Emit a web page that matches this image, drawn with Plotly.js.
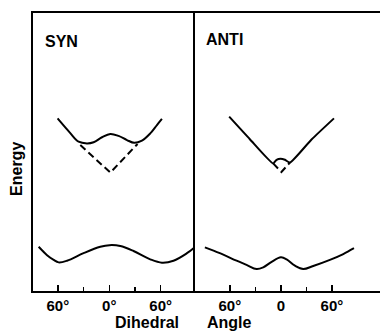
<!DOCTYPE html>
<html><head><meta charset="utf-8">
<script src="https://cdn.plot.ly/plotly-3.0.1.min.js"></script>
<style>html,body{margin:0;padding:0;background:#fff;}#chart{width:380px;height:333px;}</style>
</head><body><div id="chart"></div>
<script>
// Dihedral angle (degrees) vs energy (arbitrary units, 0-100)
const synUpperAngle = [-60.3, -57.1, -45.5, -35.8, -26.0, -18.3, -8.5, 1.2, 10.8, 20.6, 29.1, 38.1, 47.8, 55.6, 61.4];
const synUpperEnergy = [62.1, 60.9, 56.8, 53.7, 53.1, 53.5, 55.3, 56.5, 55.8, 54.3, 53.3, 54.1, 56.7, 59.7, 61.9];
const synDashAngle = [-33.8, 1.2, 33.0];
const synDashEnergy = [52.5, 42.6, 52.9];
const synLowerAngle = [-82.4, -72.6, -64.9, -59.1, -49.3, -30.0, -10.5, 0.3, 12.8, 28.3, 47.8, 61.4, 74.9, 90.6, 98.3];
const synLowerEnergy = [15.9, 12.9, 11.2, 10.3, 10.9, 13.6, 15.9, 16.5, 16.2, 14.4, 11.4, 10.2, 10.9, 13.6, 15.4];

const antiUpperAngle = [-60.8, -36.5, -9.1, -5.1, -0.4, 4.7, 10.6, 36.0, 62.4];
const antiUpperEnergy = [62.7, 54.6, 45.9, 47.2, 47.6, 47.2, 46.2, 54.5, 62.1];
const antiDashAngle = [-9.1, 0.6, 10.6];
const antiDashEnergy = [45.9, 42.8, 46.2];
const antiLowerAngle = [-89.4, -71.8, -52.1, -40.4, -28.6, -20.8, -10.9, 0, 6.7, 16.5, 26.2, 38.0, 57.6, 73.3, 85.9];
const antiLowerEnergy = [15.7, 13.6, 10.9, 9.4, 7.9, 8.5, 10.5, 12.1, 11.4, 9.1, 7.9, 9.0, 11.2, 13.3, 15.4];

const tickVals = [-60, 0, 60];
const synTickText = ['60°', '0°', '60°'];
const antiTickText = ['60°', '0', '60°'];
const minorVals = [-30, 30];

const solid = {color: '#000', width: 2, shape: 'spline', smoothing: 1};
const dashed = {color: '#000', width: 2, dash: '7px,4px'};

const traces = [
  {x: synUpperAngle, y: synUpperEnergy, xaxis: 'x', yaxis: 'y', mode: 'lines', line: solid},
  {x: synDashAngle, y: synDashEnergy, xaxis: 'x', yaxis: 'y', mode: 'lines', line: dashed},
  {x: synLowerAngle, y: synLowerEnergy, xaxis: 'x', yaxis: 'y', mode: 'lines', line: solid},
  {x: antiUpperAngle, y: antiUpperEnergy, xaxis: 'x2', yaxis: 'y2', mode: 'lines', line: {color: '#000', width: 2, shape: 'spline', smoothing: 0.5}},
  {x: antiDashAngle, y: antiDashEnergy, xaxis: 'x2', yaxis: 'y2', mode: 'lines', line: dashed},
  {x: antiLowerAngle, y: antiLowerEnergy, xaxis: 'x2', yaxis: 'y2', mode: 'lines', line: solid}
];

const split = 162 / 347;
const boldFam = 'Liberation Sans, Arial, sans-serif';
const tickFont = {family: boldFam, size: 15, color: '#000', weight: 'bold'};
const axBase = {
  showgrid: false, zeroline: false, showline: true, linecolor: '#000', linewidth: 2,
  ticks: 'inside', ticklen: 6, tickwidth: 1.5, tickcolor: '#000', tickfont: tickFont,
  tickmode: 'array', tickvals: tickVals, fixedrange: true
};
const layout = {
  width: 380, height: 333,
  margin: {l: 33, r: 0, t: 13, b: 42},
  paper_bgcolor: '#fff', plot_bgcolor: '#fff',
  showlegend: false,
  xaxis: Object.assign({}, axBase, {domain: [0, split], range: [-89, 100], ticktext: synTickText, mirror: true, anchor: 'y',
    minor: {tickvals: minorVals, ticks: 'inside', ticklen: 4, tickwidth: 1.5, tickcolor: '#000'}}),
  xaxis2: Object.assign({}, axBase, {domain: [split, 1], range: [-101, 116.5], ticktext: antiTickText, mirror: true, anchor: 'y2',
    minor: {tickvals: minorVals, ticks: 'inside', ticklen: 4, tickwidth: 1.5, tickcolor: '#000'}}),
  yaxis: {domain: [0, 1], range: [0, 100], showgrid: false, zeroline: false, showline: true, linecolor: '#000', linewidth: 2,
    showticklabels: false, ticks: '', mirror: false, anchor: 'x', fixedrange: true},
  yaxis2: {domain: [0, 1], range: [0, 100], showgrid: false, zeroline: false, showline: true, linecolor: '#000', linewidth: 2,
    showticklabels: false, ticks: '', mirror: false, anchor: 'x2', fixedrange: true},
  annotations: [
    {text: 'SYN', xref: 'paper', yref: 'paper', x: 0.0288, y: 0.896, xanchor: 'left', yanchor: 'middle', showarrow: false,
      font: {family: boldFam, size: 16, color: '#000', weight: 'bold'}},
    {text: 'ANTI', xref: 'paper', yref: 'paper', x: 0.4928, y: 0.903, xanchor: 'left', yanchor: 'middle', showarrow: false,
      font: {family: boldFam, size: 16, color: '#000', weight: 'bold'}},
    {text: 'Energy', xref: 'paper', yref: 'paper', x: -0.0461, y: 0.439, xanchor: 'center', yanchor: 'middle', textangle: -90, showarrow: false,
      font: {family: boldFam, size: 16, color: '#000', weight: 'bold'}},
    {text: 'Dihedral', xref: 'paper', yref: 'paper', x: 0.3271, y: -0.115, xanchor: 'center', yanchor: 'middle', showarrow: false,
      font: {family: boldFam, size: 16, color: '#000', weight: 'bold'}},
    {text: 'Angle', xref: 'paper', yref: 'paper', x: 0.5677, y: -0.115, xanchor: 'center', yanchor: 'middle', showarrow: false,
      font: {family: boldFam, size: 16, color: '#000', weight: 'bold'}}
  ]
};
Plotly.newPlot('chart', traces, layout, {displayModeBar: false, staticPlot: true});
</script>
</body></html>
